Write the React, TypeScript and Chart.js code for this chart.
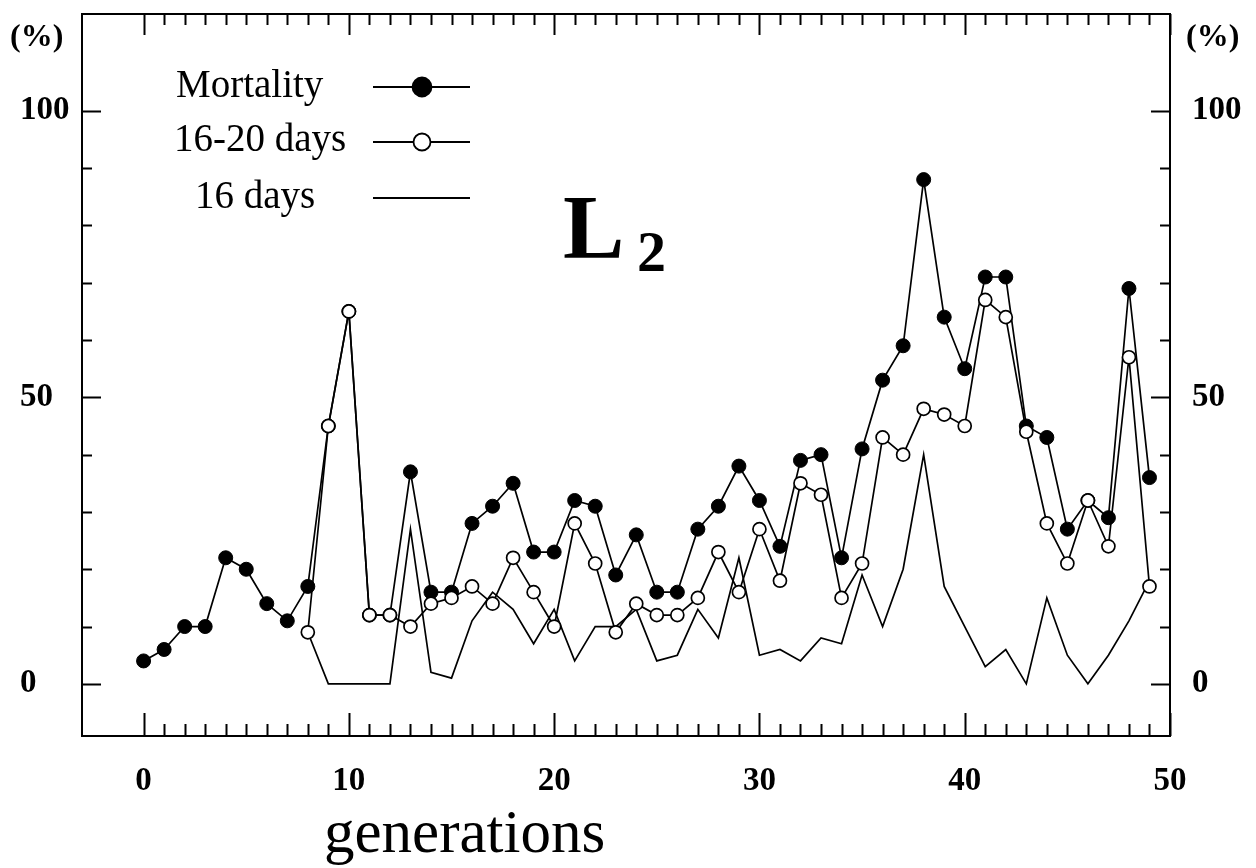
import React, { useEffect, useRef } from 'react';
import { Chart, registerables } from 'chart.js';

Chart.register(...registerables);

// ---- data ----
const generations = [
  0, 1, 2, 3, 4, 5, 6, 7, 8, 9,
  10, 11, 12, 13, 14, 15, 16, 17, 18, 19,
  20, 21, 22, 23, 24, 25, 26, 27, 28, 29,
  30, 31, 32, 33, 34, 35, 36, 37, 38, 39,
  40, 41, 42, 43, 44, 45, 46, 47, 48, 49,
];

const mortality = [
  4, 6, 10, 10, 22, 20, 14, 11, 17, 45,
  65, 12, 12, 37, 16, 16, 28, 31, 35, 23,
  23, 32, 31, 19, 26, 16, 16, 27, 31, 38,
  32, 24, 39, 40, 22, 41, 53, 59, 88, 64,
  55, 71, 71, 45, 43, 27, 32, 29, 69, 36,
];

const days16to20 = [
  null, null, null, null, null, null, null, null, 9, 45,
  65, 12, 12, 10, 14, 15, 17, 14, 22, 16,
  10, 28, 21, 9, 14, 12, 12, 15, 23, 16,
  27, 18, 35, 33, 15, 21, 43, 40, 48, 47,
  45, 67, 64, 44, 28, 21, 32, 24, 57, 17,
];

const days16 = [
  null, null, null, null, null, null, null, null, 9, 0,
  0, 0, 0, 27, 2, 1, 11, 16, 13, 7,
  13, 4, 10, 10, 13, 4, 5, 13, 8, 22,
  5, 6, 4, 8, 7, 19, 10, 20, 40, 17,
  10, 3, 6, 0, 15, 5, 0, 5, 11, 18,
];

const seriesNames = ['Mortality', '16-20 days', '16 days'];
const xTickLabels = [0, 10, 20, 30, 40, 50];
const yTickLabels = [0, 50, 100];
const xMinorTicks = [
  0, 1, 2, 3, 4, 5, 6, 7, 8, 9, 10, 11, 12, 13, 14, 15, 16, 17, 18, 19, 20,
  21, 22, 23, 24, 25, 26, 27, 28, 29, 30, 31, 32, 33, 34, 35, 36, 37, 38, 39,
  40, 41, 42, 43, 44, 45, 46, 47, 48, 49, 50,
];
const yMinorTicks = [0, 10, 20, 30, 40, 50, 60, 70, 80, 90, 100];

const SERIF = '"Liberation Serif", "Times New Roman", serif';

const toPoints = (vals: (number | null)[]) =>
  generations.map((g, i) => ({ x: g, y: vals[i] }));

const framePlugin = {
  id: 'frameAndDecor',
  beforeDraw(chart: any) {
    const { ctx, width, height } = chart;
    ctx.save();
    ctx.fillStyle = '#fff';
    ctx.fillRect(0, 0, width, height);
    ctx.restore();
  },
  afterDraw(chart: any) {
    const { ctx, chartArea: a, scales } = chart;
    const xs = scales.x;
    const ys = scales.y;
    ctx.save();
    ctx.strokeStyle = '#000';
    ctx.lineWidth = 2;
    ctx.strokeRect(a.left, a.top, a.right - a.left, a.bottom - a.top);

    ctx.lineWidth = 2;
    ctx.beginPath();
    for (const g of xMinorTicks) {
      const px = Math.round(xs.getPixelForValue(g)) + 0.5;
      const major = g % 10 === 0;
      ctx.moveTo(px, a.bottom);
      ctx.lineTo(px, a.bottom - (major ? 23 : 12));
      ctx.moveTo(px, a.top);
      ctx.lineTo(px, a.top + (major ? 21 : 11));
    }
    for (const v of yMinorTicks) {
      const py = Math.round(ys.getPixelForValue(v)) + 0.5;
      const major = v % 50 === 0;
      ctx.moveTo(a.left, py);
      ctx.lineTo(a.left + (major ? 19 : 10), py);
      ctx.moveTo(a.right, py);
      ctx.lineTo(a.right - (major ? 19 : 10), py);
    }
    ctx.stroke();

    // (%) labels
    ctx.fillStyle = '#000';
    ctx.textBaseline = 'alphabetic';
    ctx.font = `bold 32px ${SERIF}`;
    ctx.textAlign = 'left';
    ctx.fillText('(%)', 10, 46);
    ctx.fillText('(%)', 1186, 46);

    // L2
    ctx.font = `bold 92px ${SERIF}`;
    ctx.fillText('L', 563, 258);
    ctx.font = `bold 58px ${SERIF}`;
    ctx.fillText('2', 637, 271);

    // x axis title
    ctx.font = `61px ${SERIF}`;
    ctx.fillText('generations', 324, 852);

    // legend
    const ds = chart.data.datasets;
    const legendRows = [
      { text: seriesNames[0], tx: 176, ty: 97, ly: 87, d: ds[1], r: 9.5 },
      { text: seriesNames[1], tx: 174, ty: 151, ly: 142, d: ds[0], r: 8.5 },
      { text: seriesNames[2], tx: 195, ty: 208, ly: 198, d: ds[2], r: 0 },
    ];
    ctx.font = `39px ${SERIF}`;
    for (const row of legendRows) {
      ctx.fillStyle = '#000';
      ctx.fillText(row.text, row.tx, row.ty);
      ctx.strokeStyle = '#000';
      ctx.lineWidth = 1.8;
      ctx.beginPath();
      ctx.moveTo(373, row.ly);
      ctx.lineTo(470, row.ly);
      ctx.stroke();
      if (row.r > 0) {
        ctx.beginPath();
        ctx.arc(422, row.ly, row.r, 0, Math.PI * 2);
        ctx.fillStyle = row.d.pointBackgroundColor;
        ctx.fill();
        ctx.lineWidth = 1.8;
        ctx.stroke();
      }
    }
    ctx.restore();
  },
};

const noPadY = (w: number) => (s: any) => {
  s.width = w;
  s.paddingTop = 0;
  s.paddingBottom = 0;
};

export default function App() {
  const ref = useRef<HTMLCanvasElement>(null);

  useEffect(() => {
    const tickFont = { family: SERIF, size: 33, weight: 'bold' as const };
    const chart = new Chart(ref.current!, {
      type: 'line',
      data: {
        datasets: [
          {
            label: seriesNames[1],
            data: toPoints(days16to20),
            borderColor: '#000',
            borderWidth: 1.7,
            pointRadius: 6.5,
            pointBorderWidth: 1.7,
            pointBackgroundColor: '#fff',
            pointBorderColor: '#000',
            tension: 0,
          },
          {
            label: seriesNames[0],
            data: toPoints(mortality),
            borderColor: '#000',
            borderWidth: 1.7,
            pointRadius: 7,
            pointBorderWidth: 1,
            pointBackgroundColor: '#000',
            pointBorderColor: '#000',
            tension: 0,
          },
          {
            label: seriesNames[2],
            data: toPoints(days16),
            borderColor: '#000',
            borderWidth: 1.7,
            pointRadius: 0,
            pointBackgroundColor: '#000',
            tension: 0,
          },
        ],
      },
      options: {
        responsive: false,
        animation: false,
        devicePixelRatio: 1,
        layout: { padding: { left: 20, right: 0, top: 14, bottom: 0 } },
        plugins: {
          legend: { display: false },
          tooltip: { enabled: false },
        },
        scales: {
          x: {
            type: 'linear',
            min: -3,
            max: 50,
            grid: { display: false },
            border: { display: false },
            afterBuildTicks: (s: any) => {
              s.ticks = xTickLabels.map((v) => ({ value: v }));
            },
            afterFit: (s: any) => {
              s.height = 132;
              s.paddingLeft = 0;
              s.paddingRight = 0;
            },
            ticks: {
              font: tickFont,
              color: '#000',
              padding: 18,
              maxRotation: 0,
              autoSkip: false,
              callback: (v: any) => String(v),
            },
          },
          y: {
            type: 'linear',
            position: 'left',
            min: -9.1,
            max: 116.9,
            grid: { display: false },
            border: { display: false },
            afterBuildTicks: (s: any) => {
              s.ticks = yTickLabels.map((v) => ({ value: v }));
            },
            afterFit: noPadY(62),
            ticks: {
              font: tickFont,
              color: '#000',
              padding: 0,
              crossAlign: 'far',
              callback: (v: any) => String(v),
            },
          },
          y2: {
            type: 'linear',
            position: 'right',
            min: -9.1,
            max: 116.9,
            grid: { display: false },
            border: { display: false },
            afterBuildTicks: (s: any) => {
              s.ticks = yTickLabels.map((v) => ({ value: v }));
            },
            afterFit: noPadY(86),
            ticks: {
              font: tickFont,
              color: '#000',
              padding: 14,
              crossAlign: 'near',
              callback: (v: any) => String(v),
            },
          },
        },
      },
      plugins: [framePlugin],
    } as any);
    return () => chart.destroy();
  }, []);

  return (
    <div
      style={{
        position: 'fixed',
        left: 0,
        top: 0,
        width: 1256,
        height: 868,
        background: '#fff',
      }}
    >
      <canvas ref={ref} width={1256} height={868} style={{ display: 'block' }} />
    </div>
  );
}
